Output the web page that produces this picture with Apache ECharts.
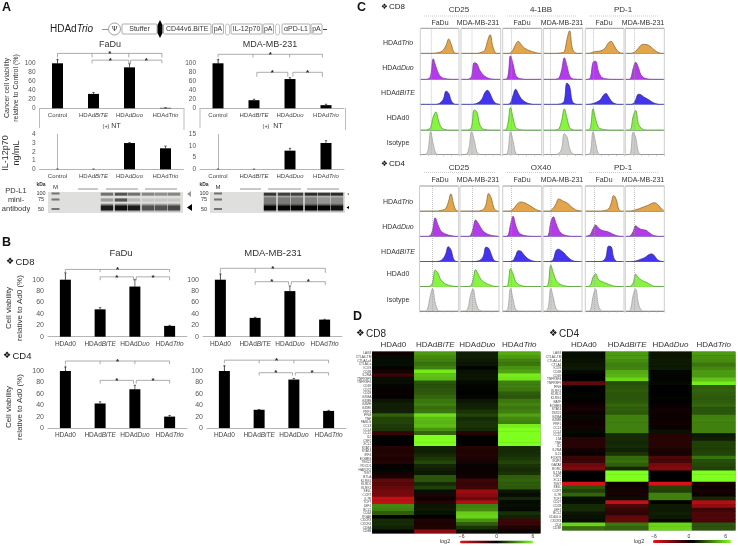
<!DOCTYPE html>
<html><head><meta charset="utf-8">
<style>html,body{margin:0;padding:0;background:#fff}#c{width:738px;height:546px}#c canvas{filter:blur(.35px)}</style>
<script src="https://cdn.jsdelivr.net/npm/echarts@6/dist/echarts.min.js"></script>
</head><body><div id="c"></div>
<script>
// ---------- DATA ----------
const catsA = ['Control','HDAdBiTE','HDAdDuo','HDAdTrio'];
const catsB = ['HDAd0','HDAdBiTE','HDAdDuo','HDAdTrio'];
const viabFaDu = [100,32,91,1];      const viabFaDuErr = [8,3,8,0.5];
const viabMda  = [100,18,65,7];      const viabMdaErr  = [8,2,3,2];
const il12FaDu = [0,0,3,2.4];        const il12FaDuErr = [0.03,0.03,0.05,0.25];
const il12Mda  = [0,0,8,11.3];       const il12MdaErr  = [0.1,0.1,1,1];
const cd8FaDu  = [100,48,88,19];     const cd8FaDuErr  = [12,3,12,1];
const cd8Mda   = [100,33,80,30];     const cd8MdaErr   = [10,1,9,0.5];
const cd4FaDu  = [100,43,68,20];     const cd4FaDuErr  = [7,3,7,2];
const cd4Mda   = [100,32,85,30];     const cd4MdaErr   = [9,0.5,2,1];
// brackets: from, to (category position), top value, foot value, star, mid ticks
const brViabFaDu = [[0,2.9,122,113,1,[0.96,1.98]],[0.96,1.98,107,100,1,[]],[2.03,2.9,107,100,1,[]]];
const brViabMda  = [[0,2.9,120,113,1,[0.97,1.99]],[1.08,1.94,80,70,1,[]],[2.08,2.9,80,70,1,[]]];
const brCd8FaDu  = [[0,3,118,113,1,[1]],[1,1.96,105,99,1,[]],[2.04,3,105,99,1,[]]];
const brCd8Mda   = [[0,3.02,120,112,1,[1]],[1,1.96,96.5,91,1,[]],[2.04,3.02,96.5,91,1,[]]];
const brCd4FaDu  = [[0,3,117.5,112,1,[1,2]],[1,1.96,83.6,78,1,[]],[2.04,3,83.6,78,1,[]]];
const brCd4Mda   = [[0,3,119,113.5,1,[1,2]],[1,1.96,97,92,1,[]],[2.04,3,97,92,1,[]]];

// flow histograms: one curve for each of FaDu/MDA x 3 markers
const histBins = ['0','1','2','3','4','5','6','7','8','9','10','11','12','13','14','15'];
const cd8Trio = [
 [0,0,0,0,0,0,1,3,6,14,32,57,35,5,0,0],[0,0,0,0,0,0,0,2,5,12,48,74,28,3,0,0],
 [0,0,0,2,14,36,48,36,24,17,12,8,5,2,0,0],[0,0,0,0,0,0,1,2,6,55,90,22,3,0,0,0],
 [0,0,1,5,7,8,10,15,25,42,48,34,16,5,1,0],[0,0,0,2,8,20,32,36,35,32,24,15,7,2,0,0]];
const cd8Duo = [
 [0,0,0,1,14,82,52,24,10,4,2,1,0,0,0,0],[0,0,0,1,12,66,62,38,22,12,6,2,1,0,0,0],
 [0,0,12,94,60,16,5,2,1,0,0,0,0,0,0,0],[0,0,0,0,0,1,6,38,86,54,14,3,1,0,0,0],
 [0,0,8,68,72,35,12,4,2,1,0,0,0,0,0,0],[0,0,3,42,68,48,18,7,3,1,0,0,0,0,0,0]];
const cd8Bite = [
 [0,0,0,0,0,0,0,2,8,22,52,44,14,2,0,0],[0,0,0,0,0,1,4,10,22,46,56,42,18,5,1,0],
 [0,0,0,6,36,60,42,24,14,7,3,1,0,0,0,0],[0,0,0,0,0,0,1,3,14,85,72,12,2,0,0,0],
 [0,0,1,3,7,12,20,36,43,30,14,5,1,0,0,0],[0,0,0,2,18,40,38,30,24,18,11,5,2,0,0,0]];
const cd8Ad0 = [
 [0,0,0,2,10,52,72,40,12,4,1,0,0,0,0,0],[0,0,0,1,14,80,72,24,6,2,1,0,0,0,0,0],
 [0,0,26,90,46,10,3,1,0,0,0,0,0,0,0,0],[0,0,0,0,0,1,6,38,84,48,10,2,0,0,0,0],
 [0,0,10,85,44,12,5,2,1,0,0,0,0,0,0,0],[0,0,2,54,78,26,8,2,0,0,0,0,0,0,0,0]];
const cd8Iso = [
 [0,0,1,18,92,44,6,1,0,0,0,0,0,0,0,0],[0,0,2,26,92,58,12,1,0,0,0,0,0,0,0,0],
 [0,0,14,92,54,6,1,0,0,0,0,0,0,0,0,0],[0,0,0,0,0,1,6,24,84,72,26,5,1,0,0,0],
 [0,0,10,92,48,5,0,0,0,0,0,0,0,0,0,0],[0,0,6,90,68,12,1,0,0,0,0,0,0,0,0,0]];
const cd4Trio = [
 [0,0,0,0,0,0,0,0,2,4,10,34,68,30,3,0],[0,0,0,0,0,0,0,0,2,6,26,70,52,14,1,0],
 [0,0,0,1,8,20,32,36,34,30,24,18,11,5,1,0],[0,0,0,2,12,28,48,44,38,34,26,16,8,3,1,0],
 [0,0,0,0,0,0,0,1,3,8,30,62,46,6,0,0],[0,0,0,2,5,8,12,16,20,24,30,33,30,20,8,1]];
const cd4Duo = [
 [0,0,0,0,2,24,74,48,24,14,9,5,3,1,0,0],[0,0,0,0,3,30,65,52,34,20,12,7,4,2,1,0],
 [0,0,3,46,80,44,18,8,4,2,1,0,0,0,0,0],[0,0,3,56,78,52,26,12,6,3,1,0,0,0,0,0],
 [0,2,8,30,45,34,26,22,20,17,12,7,3,1,0,0],[0,0,3,18,42,34,28,26,24,16,8,3,1,0,0,0]];
const cd4Bite = [
 [0,0,0,0,0,0,0,1,4,12,30,60,48,12,1,0],[0,0,0,0,0,0,1,3,8,22,58,54,30,6,1,0],
 [0,0,0,1,5,24,44,42,30,18,10,5,2,0,0,0],[0,0,0,1,10,44,50,44,36,24,14,6,2,1,0,0],
 [0,0,0,0,0,0,1,4,18,62,60,16,2,0,0,0],[0,0,0,1,3,6,10,14,20,28,31,26,12,4,1,0]];
const cd4Ad0 = [
 [0,0,0,0,2,16,66,56,30,18,11,7,4,2,1,0],[0,0,0,0,3,26,68,50,30,20,14,9,5,2,1,0],
 [0,0,8,72,50,20,10,5,2,1,0,0,0,0,0,0],[0,0,10,86,54,26,14,8,4,2,1,0,0,0,0,0],
 [0,1,6,38,52,30,22,18,14,10,6,3,1,0,0,0],[0,0,2,14,50,36,28,22,18,12,6,2,1,0,0,0]];
const cd4Iso = [
 [0,0,0,6,54,90,34,4,0,0,0,0,0,0,0,0],[0,0,0,10,60,88,40,8,1,0,0,0,0,0,0,0],
 [0,0,10,90,46,6,1,0,0,0,0,0,0,0,0,0],[0,0,14,90,52,10,1,0,0,0,0,0,0,0,0,0],
 [0,0,4,58,88,26,3,0,0,0,0,0,0,0,0,0],[0,0,6,62,88,32,5,0,0,0,0,0,0,0,0,0]];

// heatmaps (log2 fold change)
const heatCols = ['HDAd0','HDAdBiTE','HDAdDuo','HDAdTrio'];
const cd8Genes = ['LAG3','CTLA4-TM','CTLA4-all','CTLA4-s','ICOS','CD38','IL2RA','TNFRSF9','TNFRSF4','CD69','CD27','CD28','GZMA','GZMB','GZMH','GZMK','PRF1','IFNG','TNF','FASLG','CCL3','CCL4','CCL5','IL2','CSF2','XCL1','STAT1','STAT4','IRF4','EOMES','TBX21','PDCD1','HAVCR2','TIGIT','BTLA','KLRG1','KLRD1','KLRK1','SELL','CCR7','IL7R','TCF7','LEF1','BCL2','CD44','ITGAE','CXCR3','CXCR4','CD8A','CD8B'];
const cd4Genes = ['LAG3','CTLA4-TM','CTLA4-all','CTLA4','ICOS','CD38','CD69','TNFRSF4','TNFRSF9','IFNG','KLRK1','KLRD1','KLRG1','BATF','EOMES','STAT4','TBX21','GZMA','GZMB','PRF1','CCL3','CCL4','CCL5','LTA','TNF','IL2','IL2RA','IL21','FOXP3','IKZF2','GATA3','RORC','IL17A','CSF2','XCL1','TIGIT','SELL','CCR7','IL7R','TCF7','CD27','CD28','LEF1','BCL2','CD40LG','CXCR3','CD4','CD3E'];
const cd8HeatAd0  = [-.4,.2,.3,.3,.1,-.6,-1.5,.3,.3,.1,-.2,-.2,-.1,.5,.7,.7,.7,2.3,1.6,1.6,1.4,1.3,-1.4,0,0,0,-.9,-.8,-1,-.7,-.9,-.2,.1,-.5,-.7,-2.5,-2.2,-2.6,-3,-3,-5,-5,3.2,3,2.2,0,1,1,.8,0];
const cd8HeatBite = [3.6,3.2,3,2.7,3,5.5,4.6,4.4,2,1.9,2,2.1,2.4,2.8,3,2.6,2.8,5.2,4.4,4.2,4.4,3.4,2.4,6,6,6,.8,.7,1,1.3,1.7,.9,.7,.6,2,2,1,1.5,.3,-.8,-.4,-.9,.5,.6,.4,0,-.8,-.7,-.8,-3.5];
const cd8HeatDuo  = [.7,.7,.6,.5,.1,.4,.5,.5,.2,.1,.1,0,.1,.5,.7,.8,1.2,1.6,1,1.2,1.2,1,-1,0,0,0,-.9,-.8,-.9,-.7,-.6,-.2,-.3,-.3,-.4,-1.6,-1.4,-1.6,-4,-3.6,-2.8,-4.6,3,3.2,4.8,5,3.4,2.2,1.2,.3];
const cd8HeatTrio = [4,3.6,3,2.8,3.4,3.8,5.6,5.4,3,3,2.8,2.2,2,2.8,3.1,2.8,3,3.8,3.2,3,5.6,6,6,6,6,6,1,1,1.1,1.3,1.6,1.2,1,1.2,2.2,2.3,2.2,2.1,.5,.3,.9,.2,.3,.2,1.1,.8,-1.6,-1.4,-.8,-.2];
const cd4HeatAd0  = [.3,.3,.4,.5,.6,.2,0,0,-2.5,0,0,.1,.1,-.1,-.4,-.6,-.3,.2,-.4,-.3,-.5,.2,.1,-1,-1,-1,-.5,-.3,-1.5,-1.5,-2.8,-3.2,0,0,0,-5.5,2,1.5,2.4,.3,.3,1,1,.5,.4,.3,5,2.6];
const cd4HeatBite = [3.6,3.6,3.3,3,3.1,4,4.2,5,1.8,2,2.1,2,2,2.1,2.4,2.2,2.1,3,3,3,3,3,1,1,.9,1,.8,1.2,2.5,2.6,2.2,.9,6,6,6,-.3,-.4,-.6,-.6,.3,-5,-2,-1.4,-1.2,-2.5,-2.6,2.8,2.4];
const cd4HeatDuo  = [.5,.5,.6,.6,.6,.1,.1,.1,.2,0,0,0,.1,0,-.2,-.4,-.4,-.3,-.4,-.4,-.3,.4,-1,-1,-1,-1,-.7,-.6,-2,-1.8,-3,-3.4,0,0,0,-5.5,1.6,1.5,3,3,0,.6,.6,.7,.6,.2,5,5];
const cd4HeatTrio = [3.6,3.4,3.3,2.8,3.2,3.6,3.6,4.6,5.6,2.2,2.3,2.2,2.1,2.2,2.4,2,2,3,3.1,3,3,3,.6,.7,1.5,1.5,1.5,1.6,2.7,1.8,1.7,1.5,6,6,6,-.6,-.4,-.5,-.4,.9,-4.6,-3.8,-1.6,-2,-2,-1.9,2,2];

// blots: band darkness per lane (0-1), six lanes
const blotFaDu100 = [.55,.7,.55,.45,.4,.45];
const blotFaDu75  = [.35,.75,.2,.12,.12,.12];
const blotFaDu50  = [.9,.95,.9,.65,.65,.7];
const blotMda100  = [.85,.8,.8,.9,.85,.9];
const blotMdaSmear= [.55,.55,.55,.5,.4,.45];
const blotMda50   = [1,1,1,1,1,.95];

// ---------- LAYOUT / BUILD ----------
const FF = 'Liberation Sans, Arial, sans-serif';
const grid=[],xAxis=[],yAxis=[],series=[],G=[],visualMap=[];
const richStyle = (s,c)=>({n:{fontSize:s,color:c,fill:c,fontFamily:FF},i:{fontSize:s,color:c,fill:c,fontFamily:FF,fontStyle:'italic'}});
const rn = t=>{const m=/^HDAd(BiTE|Duo|Trio)$/.exec(t);return m?`{n|HDAd}{i|${m[1]}}`:`{n|${t}}`;};
const T=(text,x,y,o={})=>({type:'text',x,y,rotation:o.rot||0,z:o.z||10,silent:true,style:{text,fill:o.fill||'#333',fontSize:o.s||7,fontFamily:o.ff||FF,fontWeight:o.w||'normal',align:o.align||'center',verticalAlign:'middle',rich:o.rich}});
const TI=(name,x,y,s,c)=>T(rn(name),x,y,{s,rich:richStyle(s,c||'#333'),fill:c||'#333'});
const L=(x1,y1,x2,y2,c,w,dash)=>({type:'line',z:10,silent:true,shape:{x1,y1,x2,y2},style:{stroke:c||'#999',lineWidth:w||1,lineDash:dash}});
const R=(x,y,w,h,o={})=>({type:'rect',z:o.z||5,silent:true,shape:{x,y,width:w,height:h,r:o.r||0},style:{fill:o.fill||'none',stroke:o.stroke||null,lineWidth:o.lw||0.8,opacity:o.op==null?1:o.op}});
const TRI=(pts,c)=>({type:'polygon',z:10,silent:true,shape:{points:pts},style:{fill:c}});
const band=(rgb,a,mid)=>({type:'linear',x:0,y:0,x2:0,y2:1,colorStops:[{offset:0,color:`rgba(${rgb},0)`},{offset:mid-.18,color:`rgba(${rgb},${a})`},{offset:mid+.18,color:`rgba(${rgb},${a})`},{offset:1,color:`rgba(${rgb},0)`}]});

function barPanel(o){
  const gi=grid.length;
  const yMax=o.yMax, pxPerUnit=o.ppu;
  grid.push({left:o.left,width:o.w,top:o.zero-yMax*pxPerUnit,height:yMax*pxPerUnit,outerBoundsMode:'none'});
  xAxis.push({gridIndex:gi,type:'category',data:o.cats,axisTick:{show:false},axisLine:{lineStyle:{color:'#b5b5b5',width:1}},
    axisLabel:{interval:0,margin:o.margin||4,fontSize:o.ls||6,fontFamily:FF,formatter:rn,rich:richStyle(o.ls||6,'#444')}});
  xAxis.push({gridIndex:gi,type:'value',min:-0.5,max:3.5,show:false,position:'top'});
  yAxis.push({gridIndex:gi,type:'value',min:0,max:yMax,interval:o.int,splitLine:{show:false},axisTick:{show:false},
    axisLine:{show:true,lineStyle:{color:'#b5b5b5',width:1}},
    axisLabel:{margin:4,fontSize:o.ys||6.5,color:'#555',fontFamily:FF,showMaxLabel:o.showMax===true}});
  const xb=xAxis.length-2, xv=xAxis.length-1, yi=yAxis.length-1;
  series.push({type:'bar',xAxisIndex:xb,yAxisIndex:yi,data:o.vals,barWidth:11,silent:true,itemStyle:{color:'#000'}});
  series.push({type:'custom',xAxisIndex:xv,yAxisIndex:yi,silent:true,data:o.vals.map((v,i)=>[i,v]),
    renderItem:(p,api)=>{const i=p.dataIndex,v=o.vals[i],e=o.errs[i];const a=api.coord([i,v]),b=api.coord([i,v+e]);
      return {type:'group',children:[
        {type:'line',shape:{x1:a[0],y1:a[1],x2:b[0],y2:b[1]},style:{stroke:'#222',lineWidth:0.7}},
        {type:'line',shape:{x1:b[0]-1.2,y1:b[1],x2:b[0]+1.2,y2:b[1]},style:{stroke:'#222',lineWidth:0.7}}]};}});
  if(o.br) series.push({type:'custom',xAxisIndex:xv,yAxisIndex:yi,silent:true,z:4,data:o.br.map(b=>[b[0],b[2]]),
    renderItem:(p,api)=>{const b=o.br[p.dataIndex];
      const A=api.coord([b[0],b[2]]),B=api.coord([b[1],b[2]]),A2=api.coord([b[0],b[3]]),B2=api.coord([b[1],b[3]]);
      const ch=[{type:'polyline',shape:{points:[A2,A,B,B2]},style:{fill:null,stroke:'#888',lineWidth:0.7}}];
      b[5].forEach(m=>{const c=api.coord([m,b[2]]),d=api.coord([m,b[3]]);ch.push({type:'line',shape:{x1:c[0],y1:c[1],x2:d[0],y2:d[1]},style:{stroke:'#888',lineWidth:0.7}});});
      if(b[4]) ch.push({type:'text',x:(A[0]+B[0])/2,y:A[1]+0.5,style:{text:'*',fontSize:8,fontWeight:'bold',fill:'#222',align:'center',verticalAlign:'middle',fontFamily:FF}});
      return {type:'group',children:ch};}});
}
const aTopV=110;
barPanel({left:39.5,w:144,zero:108.3,ppu:.45,yMax:aTopV,int:20,cats:catsA,vals:viabFaDu,errs:viabFaDuErr,br:brViabFaDu,margin:4});
barPanel({left:200,w:144,zero:108.3,ppu:.45,yMax:aTopV,int:20,cats:catsA,vals:viabMda,errs:viabMdaErr,br:brViabMda,margin:4});
barPanel({left:39.5,w:144,zero:169.3,ppu:8.75,yMax:4,int:1,cats:catsA,vals:il12FaDu,errs:il12FaDuErr,margin:4,showMax:true});
barPanel({left:200,w:144,zero:169.3,ppu:2.33,yMax:15,int:5,cats:catsA,vals:il12Mda,errs:il12MdaErr,margin:4,showMax:true});
barPanel({left:48,w:139,zero:336.7,ppu:.57,yMax:110,int:20,cats:catsB,vals:cd8FaDu,errs:cd8FaDuErr,br:brCd8FaDu,margin:4,ls:6.5,ys:7});
barPanel({left:203,w:139,zero:336.7,ppu:.57,yMax:110,int:20,cats:catsB,vals:cd8Mda,errs:cd8MdaErr,br:brCd8Mda,margin:4,ls:6.5,ys:7});
barPanel({left:48,w:139,zero:428,ppu:.57,yMax:110,int:20,cats:catsB,vals:cd4FaDu,errs:cd4FaDuErr,br:brCd4FaDu,margin:4,ls:6.5,ys:7});
barPanel({left:207,w:139,zero:428,ppu:.57,yMax:110,int:20,cats:catsB,vals:cd4Mda,errs:cd4MdaErr,br:brCd4Mda,margin:4,ls:6.5,ys:7});

// histograms
const histStyle=[
 {fill:'#E2A54B',edge:'#8a6c36',base:'#b09a78'},
 {fill:'#B53BEA',edge:'#7b3ba3',base:'#9c84c6'},
 {fill:'#4434F0',edge:'#2f2c96',base:'#8d92cc'},
 {fill:'#86F53F',edge:'#55a036',base:'#8fb585'},
 {fill:'#CDCDCA',edge:'#a3a3a3',base:'#8b8b8b'}];
function histBlock(rows,cols,bases,dots){
  rows.forEach((row,r)=>row.forEach((vals,c)=>{
    const gi=grid.length,st=histStyle[r];
    grid.push({left:cols[c][0],width:cols[c][1]-cols[c][0],top:bases[r]-25,height:25,outerBoundsMode:'none'});
    xAxis.push({gridIndex:gi,type:'category',boundaryGap:false,data:histBins,axisLabel:{show:false},
      axisTick:{show:r===4,length:1.5,interval:2,lineStyle:{color:'#aaa',width:.5}},axisLine:{lineStyle:{color:st.base,width:1}}});
    yAxis.push({gridIndex:gi,type:'value',min:0,max:100,show:false});
    series.push({type:'line',xAxisIndex:xAxis.length-1,yAxisIndex:yAxis.length-1,data:vals,smooth:.4,showSymbol:false,silent:true,
      lineStyle:{color:st.edge,width:.8},areaStyle:{color:st.fill,opacity:1}});
  }));
  cols.forEach((cl,c)=>{
    const top=bases[0]-25,bot=bases[4]+1;
    G.push(L(cl[0],top,cl[1],top,'#9a9a9a',1));
    G.push(L(cl[0],top,cl[0],bot,'#cdcdcd',1));
    G.push(L(cl[1],top,cl[1],bot,'#cdcdcd',1));
    G.push(L(cl[0]+dots[c],top,cl[0]+dots[c],bases[4],'#999',.6,[1,1]));
  });
}
const colsC8=[[420.3,459],[461,500.7],[502.7,541.7],[543.3,582.7],[585.3,624],[625.3,664.3]];
const colsC4=[[419.5,458.7],[460,499],[502.7,541.7],[543,582],[585.3,624],[625.3,664.3]];
histBlock([cd8Trio,cd8Duo,cd8Bite,cd8Ad0,cd8Iso],colsC8,[53.3,79.3,104.3,130,154.7],[11,11,9,7,8,9]);
histBlock([cd4Trio,cd4Duo,cd4Bite,cd4Ad0,cd4Iso],colsC4,[211,236.3,261.7,286.7,311],[13,12.5,9,8,9,9]);

// heatmaps
function heat(o){
  const gi=grid.length;
  grid.push({left:o.left,width:o.w,top:o.top,height:o.h,outerBoundsMode:'none',show:true,backgroundColor:'#000',borderWidth:0});
  xAxis.push({gridIndex:gi,type:'category',position:'top',data:heatCols,axisLine:{show:false},axisTick:{show:false},
    axisLabel:{interval:0,margin:3,fontSize:8,fontFamily:FF,formatter:rn,rich:richStyle(8,'#333')},splitLine:{show:false}});
  yAxis.push({gridIndex:gi,type:'category',inverse:true,data:o.genes,axisLine:{show:false},axisTick:{show:false},
    axisLabel:{interval:0,margin:1,fontSize:3.2,color:'#444',fontFamily:FF},splitLine:{show:false}});
  const data=[];o.cols.forEach((col,x)=>col.forEach((v,y)=>data.push([x,y,v])));
  series.push({type:'heatmap',xAxisIndex:xAxis.length-1,yAxisIndex:yAxis.length-1,data,silent:true,progressive:0});
  visualMap.push({type:'continuous',seriesIndex:series.length-1,dimension:2,min:-6,max:6,orient:'horizontal',
    left:o.barL,top:o.barT,itemWidth:3,itemHeight:o.barW,calculable:false,realtime:false,text:null,showLabel:false,hoverLink:false,
    inRange:{color:['#e8141a','#000000','#7FFF1E']},textStyle:{fontSize:1,color:'#fff'},padding:0});
}
heat({left:372.3,w:168,top:351.7,h:181.6,genes:cd8Genes,cols:[cd8HeatAd0,cd8HeatBite,cd8HeatDuo,cd8HeatTrio],barL:460,barT:540.5,barW:73});
heat({left:562.3,w:173,top:351.7,h:178.6,genes:cd4Genes,cols:[cd4HeatAd0,cd4HeatBite,cd4HeatDuo,cd4HeatTrio],barL:653,barT:540,barW:78});

// ---------- TEXT + ANNOTATION ----------
const letter=(t,x,y)=>T(t,x,y,{s:12.5,w:'bold',fill:'#111',align:'left'});
G.push(letter('A',2,8),letter('B',2,243),letter('C',357,8),letter('D',353,317));
// construct diagram
G.push(T('{n|HDAd}{i|Trio}',50,29,{s:10,fill:'#222',align:'left',rich:richStyle(10,'#222')}));
G.push(L(102,29.5,108,29.5,'#777',.8),L(323,29.5,327,29.5,'#111',.8));
G.push({type:'circle',z:10,silent:true,shape:{cx:114.5,cy:29,r:6},style:{fill:'#fff',stroke:'#888',lineWidth:.8}});
G.push(T('Ψ',114.5,29,{s:7,ff:'DejaVu Serif'}));
[['Stuffer',122,157],['CD44v6.BiTE',163.5,211],['pA',212.5,223.5],['IL-12p70',231,262],['pA',263,273.5],['αPD-L1',282,310],['pA',311,322]].forEach(b=>{
  G.push(R(b[1],24,b[2]-b[1],10,{fill:'#fff',stroke:'#999',lw:.8,r:1,z:9}));G.push(T(b[0],(b[1]+b[2])/2,29.2,{s:7,fill:'#333'}));});
G.push(TRI([[160,20],[162.5,25],[162.5,33],[160,38],[157.5,33],[157.5,25]],'#000'));
G.push(R(225.5,24,4,11,{fill:'#fff',stroke:'#aaa',lw:.7,r:2,z:9}),R(275.5,24,4,11,{fill:'#fff',stroke:'#aaa',lw:.7,r:2,z:9}));
// panel A titles and side labels
G.push(T('FaDu',110,44.5,{s:9}),T('MDA-MB-231',270,44.5,{s:9}));
G.push(T('Cancer cell viability',7,88,{s:7,rot:Math.PI/2}),T('relative to Control (%)',16,88,{s:7,rot:Math.PI/2}));
G.push(T('IL-12p70',6,153,{s:9,rot:Math.PI/2}),T('ng/mL',17,153,{s:9,rot:Math.PI/2}));
G.push(T('(+)',106,126,{s:5.5}),T('NT',116,126,{s:7}),T('(+)',266,126,{s:5.5}),T('NT',278,126,{s:7}));
G.push(L(39.5,108,39.5,128,'#bbb',1),L(184,108,184,130,'#bbb',1),L(200,108,200,128,'#bbb',1),L(345.5,108,345.5,130,'#bbb',1));
G.push(T('PD-L1',16,191,{s:7.5}),T('mini-',16,200,{s:7.5}),T('antibody',16,209,{s:7.5}));
// blots
function blot(o){
  G.push(R(o.x,192,o.w,21,{fill:'#dfdfdd',z:5}));
  G.push(T('kDa',o.kx,184.5,{s:5,w:'bold'}),T('M',o.mx,187.5,{s:6}),T('100',o.kx,193,{s:5.5}),T('75',o.kx,199,{s:5.5}),T('50',o.kx,209,{s:5.5}));
  [193.5,199.5,209].forEach(y=>G.push(R(o.mx-4,y-1.5,8,3,{fill:band('90,90,90',.8,.5),z:6})));
  o.lines.forEach(l=>G.push(L(l[0],189,l[1],189,'#777',.8)));
  o.lanes.forEach((x,i)=>{
    if(o.smear) G.push(R(x-o.bw/2,194,o.bw,13,{fill:band('40,40,40',o.smear[i],.5),z:6}));
    G.push(R(x-o.bw/2,192,o.bw,4.5,{fill:band('25,25,25',o.b100[i],.5),z:6}));
    if(o.b75) G.push(R(x-o.bw/2,197.5,o.bw,5,{fill:band('40,40,40',o.b75[i],.5),z:6}));
    G.push(R(x-o.bw/2,203,o.bw,9,{fill:band('5,5,5',o.b50[i],.55),z:7}));
  });
}
blot({x:48,w:135,kx:41,mx:55.5,lines:[[78,98],[106,138],[145,177]],lanes:[107,121,134,148,161,174],bw:12.5,b100:blotFaDu100,b75:blotFaDu75,b50:blotFaDu50});
blot({x:210,w:135,kx:204,mx:218,lines:[[240,261],[268,301],[307,339]],lanes:[270,284,297,311,324,337],bw:12.5,b100:blotMda100,smear:blotMdaSmear,b50:blotMda50});
G.push(TRI([[187,194],[191,191],[191,197]],'#999'),TRI([[187,207.5],[192,204],[192,211]],'#000'));
G.push(TRI([[347,194],[349,193],[349,195]],'#666'),TRI([[346.5,207.5],[349,206],[349,209]],'#000'));
// panel B
G.push(T('FaDu',121,253,{s:9.5}),T('MDA-MB-231',273,253,{s:9.5}));
const dia=(name,x,y,s)=>[T('❖',x,y,{s:s*.95,ff:'DejaVu Sans',align:'left',fill:'#111'}),T(name,x+s*1,y,{s,align:'left',fill:'#222'})];
G.push(...dia('CD8',6,262,9.5),...dia('CD4',3,356,9.5));
G.push(T('Cell viability',9,308,{s:8,rot:Math.PI/2}),T('relative to Ad0 (%)',20,308,{s:8,rot:Math.PI/2}));
G.push(T('Cell viability',9,407,{s:8,rot:Math.PI/2}),T('relative to Ad0 (%)',20,407,{s:8,rot:Math.PI/2}));
// panel C
function cHead(names,yH,yLine,ySub,x){
  [[459,424,495,440,478],[541,507,577,522,562],[623,589,659,604,643]].forEach((p,i)=>{
    G.push(T(names[i],p[0],yH,{s:8}),L(p[1],yLine,p[2],yLine,'#aaa',.6,[1,1]),T('FaDu',p[3],ySub,{s:7}),T('MDA-MB-231',p[4],ySub,{s:7}));});
}
cHead(['CD25','4-1BB','PD-1'],10,16,23);
cHead(['CD25','OX40','PD-1'],168,172.7,180);
G.push(...dia('CD8',381,7,8),...dia('CD4',381,164,8));
['HDAdTrio','HDAdDuo','HDAdBiTE','HDAd0','Isotype'].forEach((n,i)=>{
  G.push(TI(n,398,[43,68,93,118,143][i],7));G.push(TI(n,398,[202,227,252,274,300][i],7));});
// panel D
G.push(...dia('CD8',356,334,10),...dia('CD4',549,334,10));
G.push(T('log2',445,541.5,{s:5.5}),T('−6',461.7,537,{s:5}),T('0',496.7,537,{s:5}),T('6',533,537,{s:5}));
G.push(T('log2',639,541,{s:5.5}),T('−6',654,536.5,{s:5}),T('0',689,536.5,{s:5}),T('6',725.7,536.5,{s:5}));

const chart=echarts.init(document.getElementById('c'),null,{renderer:'canvas'});
chart.setOption({animation:false,backgroundColor:'#fff',tooltip:{show:false},grid,xAxis,yAxis,series,visualMap,graphic:{elements:G}});
</script></body></html>
